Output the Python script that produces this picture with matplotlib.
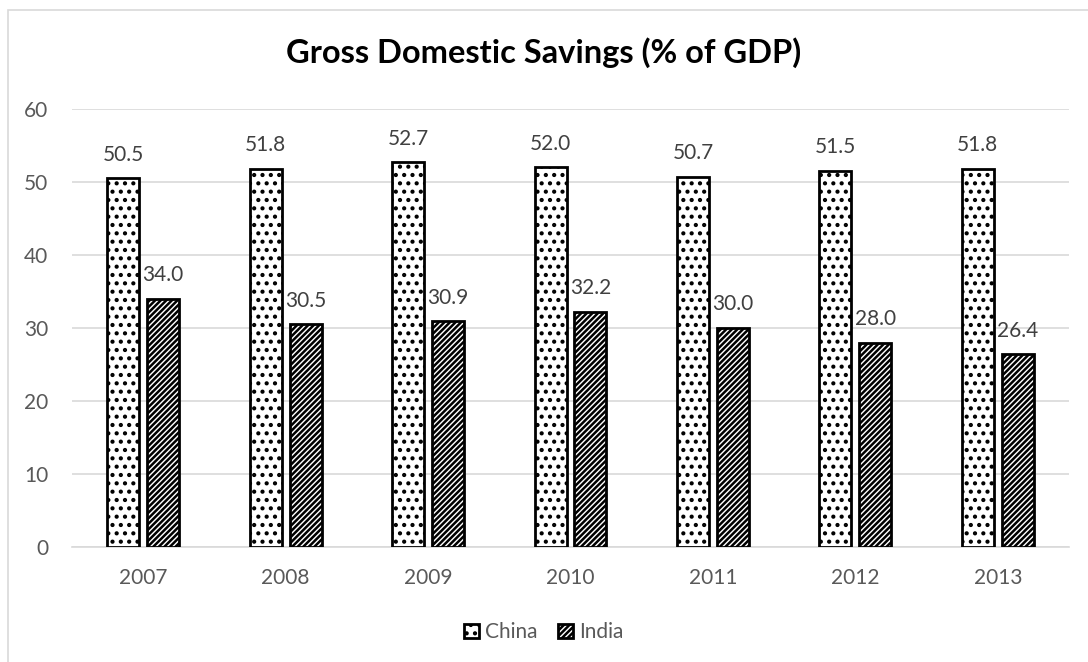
import numpy as np
import matplotlib.pyplot as plt
from matplotlib.patches import Rectangle

plt.rcParams['font.family'] = ['Lato', 'DejaVu Sans']
plt.rcParams['hatch.linewidth'] = 1.8

years = ['2007', '2008', '2009', '2010', '2011', '2012', '2013']
china = [50.5, 51.8, 52.7, 52.0, 50.7, 51.5, 51.8]
india = [34.0, 30.5, 30.9, 32.2, 30.0, 28.0, 26.4]

fig = plt.figure(figsize=(10.88, 6.62), dpi=100)
ax = fig.add_axes([0.0662, 0.1737, 0.9163, 0.6616])

# chart border
fig.patches.append(Rectangle((8 / 1088, -0.1), 2, 1.1 - 10 / 662, transform=fig.transFigure,
                             fill=False, edgecolor='#d9d9d9', linewidth=1.2))

x = np.arange(len(years))
w = 0.225
off = 0.14
b1 = ax.bar(x - off, china, width=w, facecolor='white', edgecolor='black',
            linewidth=2, hatch='..', label='China', zorder=3)
b2 = ax.bar(x + off, india, width=w, facecolor='white', edgecolor='black',
            linewidth=2, hatch='//////', label='India', zorder=3)

for bars, vals in [(b1, china), (b2, india)]:
    for r, v in zip(bars, vals):
        ax.annotate(f'{v:.1f}', (r.get_x() + r.get_width() / 2, v), xytext=(0, 17),
                    textcoords='offset points', ha='center', va='center',
                    fontsize=15, color='#404040')

ax.set_xlim(-0.5, len(years) - 0.5)
ax.set_ylim(0, 60)
ax.set_yticks(range(0, 61, 10))
ax.set_xticks(x)
ax.set_xticklabels(years)
ax.yaxis.grid(True, color='#d9d9d9', linewidth=1.2, zorder=0)
ax.set_axisbelow(True)
for s in ['top', 'right', 'left']:
    ax.spines[s].set_visible(False)
ax.spines['bottom'].set_color('#d9d9d9')
ax.spines['bottom'].set_linewidth(1.2)
ax.tick_params(axis='both', length=0, labelsize=15, labelcolor='#595959')
ax.tick_params(axis='x', pad=15)
ax.tick_params(axis='y', pad=17)

fig.text(0.5, 0.921, 'Gross Domestic Savings (% of GDP)', ha='center', va='center',
         fontsize=23.5, fontweight='bold', color='black')

leg = fig.legend(handles=[b1, b2], loc='center', bbox_to_anchor=(0.5, 0.045), ncol=2,
                 frameon=False, fontsize=15, handlelength=0.7, handleheight=0.7,
                 handletextpad=0.3, columnspacing=1.0, labelcolor='#595959')

fig.savefig('out.png', dpi=100)
